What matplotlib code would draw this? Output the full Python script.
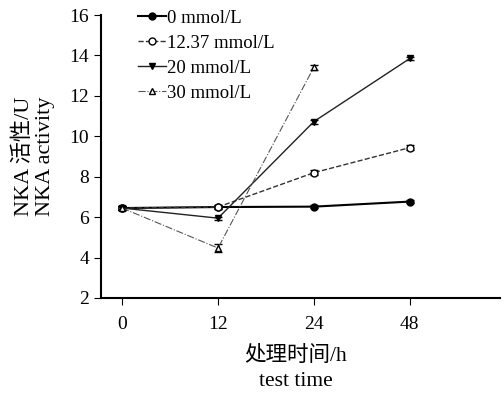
import numpy as np
import matplotlib.pyplot as plt

plt.rcParams['font.family'] = ['Liberation Serif', 'Noto Sans CJK SC']

time_labels = ['0', '12', '24', '48']
x = np.arange(len(time_labels))

nka_0 = [6.45, 6.5, 6.52, 6.77]
nka_1237 = [6.45, 6.5, 8.2, 9.44]
nka_20 = [6.45, 5.95, 10.73, 13.85]
nka_30 = [6.45, 4.47, 13.42]

err_0 = [0.1, 0.08, 0.08, 0.08]
err_1237 = [0.1, 0.08, 0.12, 0.12]
err_20 = [0.1, 0.08, 0.1, 0.08]
err_30 = [0.12, 0.18, 0.12]

fig = plt.figure(figsize=(5.03, 3.96), dpi=100)
ax = fig.add_axes([0.2008, 0.2475, 0.7932, 0.7145])

ax.errorbar(x, nka_0, yerr=err_0, fmt='none', ecolor='black', capsize=3, elinewidth=0.8)
ax.errorbar(x, nka_1237, yerr=err_1237, fmt='none', ecolor='black', capsize=3, elinewidth=0.8)
ax.errorbar(x, nka_20, yerr=err_20, fmt='none', ecolor='black', capsize=3, elinewidth=0.8)
ax.errorbar(x[:3], nka_30, yerr=err_30, fmt='none', ecolor='black', capsize=3, elinewidth=0.8)

ax.plot(x, nka_0, color='black', lw=1.5, marker='o', ms=5, label='0 mmol/L')
ax.plot(x, nka_1237, color='#333333', lw=1.0, ls='--', marker='o', ms=5,
        mfc='white', mec='black', label='12.37 mmol/L')
ax.plot(x, nka_20, color='#222222', lw=1.0, marker='v', ms=5,
        mfc='black', mec='black', label='20 mmol/L')
ax.plot(x[:3], nka_30, color='#555555', lw=0.8, ls='-.', marker='^', ms=5,
        mfc='white', mec='black', label='30 mmol/L')

ax.set_xlim(-0.22, 3.94)
ax.set_ylim(2, 16)
ax.set_yticks([2, 4, 6, 8, 10, 12, 14, 16])
ax.set_xticks(x)
ax.set_xticklabels(time_labels)
ax.tick_params(axis='both', labelsize=14, direction='out', length=5, width=0.8)
ax.tick_params(axis='x', pad=8)
ax.spines['top'].set_visible(False)
ax.spines['right'].set_visible(False)
ax.spines['left'].set_linewidth(1.5)
ax.spines['bottom'].set_linewidth(1.5)

ax.set_ylabel('NKA 活性/U\nNKA activity', fontsize=16, linespacing=1.15)
ax.yaxis.set_label_coords(-0.115, 0.5)
ax.set_xlabel('处理时间/h\ntest time', fontsize=15.5, linespacing=1.4)
ax.xaxis.set_label_coords(0.489, -0.17)
ax.xaxis.label.set_va('top')

ax.legend(loc='upper left', bbox_to_anchor=(0.093, 1.02), frameon=False,
          fontsize=13.5, handlelength=1.5, handletextpad=0.05, labelspacing=0.42,
          borderpad=0, borderaxespad=0)

fig.savefig('out.png', dpi=100)
